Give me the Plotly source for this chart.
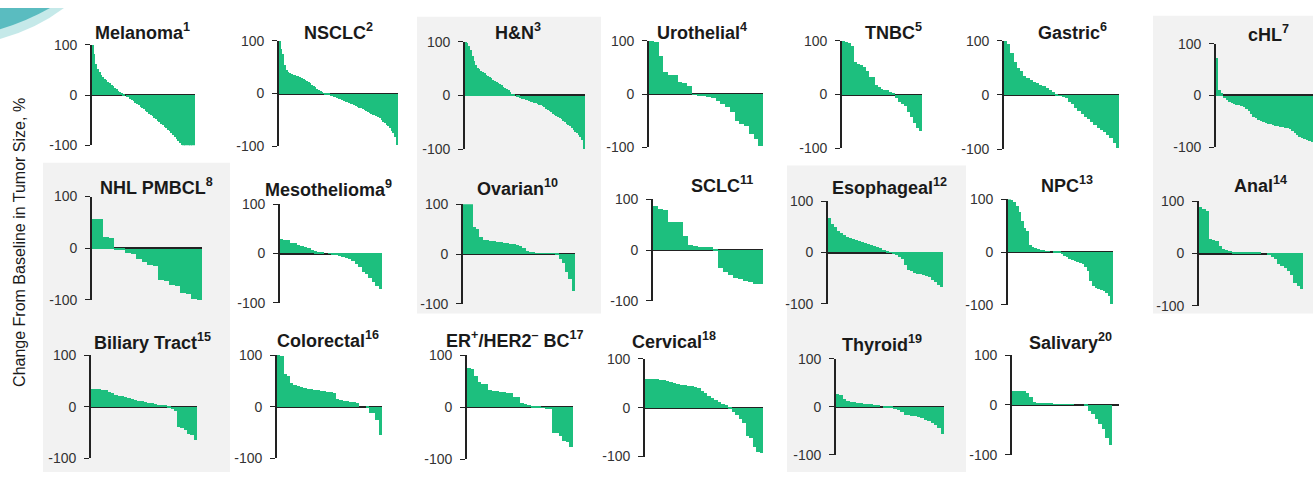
import plotly.graph_objects as go

# ---------------- data ----------------
titles = [
    "Melanoma<sup>1</sup>", "NSCLC<sup>2</sup>", "H&N<sup>3</sup>", "Urothelial<sup>4</sup>",
    "TNBC<sup>5</sup>", "Gastric<sup>6</sup>", "cHL<sup>7</sup>",
    "NHL PMBCL<sup>8</sup>", "Mesothelioma<sup>9</sup>", "Ovarian<sup>10</sup>", "SCLC<sup>11</sup>",
    "Esophageal<sup>12</sup>", "NPC<sup>13</sup>", "Anal<sup>14</sup>",
    "Biliary Tract<sup>15</sup>", "Colorectal<sup>16</sup>", "ER<sup>+</sup>/HER2<sup>\u2013</sup> BC<sup>17</sup>",
    "Cervical<sup>18</sup>", "Thyroid<sup>19</sup>", "Salivary<sup>20</sup>",
]

melanoma = [100, 82, 62, 52, 46, 41, 37, 33, 30, 27, 24, 21, 18, 15, 12, 9, 7, 4, 2, 0,
            -2, -4, -7, -10, -12, -15, -18, -20, -23, -26, -28, -31, -34, -37, -40, -42, -45, -48, -51, -54,
            -57, -60, -63, -66, -69, -72, -76, -79, -83, -87, -91, -95, -98, -100, -100, -100, -100, -100, -100, -100]
nsclc = [100, 85, 75, 55, 45, 41, 39, 37, 36, 35, 34, 33, 31, 30, 28, 26, 24, 22, 20, 17,
         14, 12, 9, 7, 5, 3, 1, -1, -2, -3, -4, -5, -6, -7, -8, -10, -11, -12, -14, -15,
         -16, -17, -19, -20, -22, -24, -25, -27, -28, -30, -31, -32, -34, -36, -38, -40, -41, -43, -45, -47,
         -50, -53, -56, -59, -62, -66, -70, -75, -82, -98]
hn = [100, 98, 92, 85, 74, 64, 57, 52, 49, 46, 44, 42, 39, 37, 35, 32, 30, 28, 26, 24,
      22, 20, 17, 15, 13, 10, 7, 4, 2, 0, -1, -3, -4, -6, -7, -8, -9, -10, -11, -12,
      -13, -14, -15, -17, -18, -20, -22, -24, -26, -28, -31, -34, -36, -38, -40, -42, -44, -47, -50, -52,
      -54, -57, -61, -64, -67, -70, -73, -77, -82, -100]
urothelial = [100, 99, 72, 42, 37, 36, 23, 21, 16, -1, -2, -3, -5, -8, -12, -18, -25, -33, -51, -56, -60, -74, -84, -97]
tnbc = [100, 99, 97, 90, 60, 57, 55, 52, 44, 33, 32, 18, 15, 11, 9, 8, 5, 4, -6, -13, -17, -21, -33, -42, -52, -62, -68]
gastric = [100, 95, 78, 62, 50, 45, 36, 32, 28, 25, 22, 19, 17, 14, 10, 6, 2, -1, -3, -6,
           -12, -17, -23, -29, -35, -40, -45, -50, -55, -60, -64, -68, -74, -80, -88, -98]
chl = [73, 12, 5, -5, -9, -12, -14, -16, -17, -18, -19, -21, -25, -29, -35, -41, -44, -47, -49, -51,
       -52, -54, -55, -57, -58, -59, -60, -61, -62, -63, -65, -68, -72, -76, -79, -82, -84, -86, -88, -90]
nhl_pmbcl = [58, 57, 22, 21, -1, -3, -8, -10, -19, -26, -31, -33, -60, -63, -70, -72, -86, -87, -98, -99]
mesothelioma = [29, 28, 27, 21, 20, 17, 14, 12, 10, 7, 4, 2, 1, 0, -1, -2, -3, -5, -7, -9,
                -12, -16, -22, -28, -37, -42, -50, -58, -66, -72]
ovarian = [100, 100, 100, 53, 50, 34, 28, 27, 26, 25, 24, 23, 22, 21, 20, 19, 18, 16, 12, 6,
           3, 2, 1, 1, 1, 1, 1, 1, -3, -10, -18, -37, -50, -75]
sclc = [86, 80, 79, 55, 55, 54, 27, 9, 8, 6, 6, 5, -1, -36, -44, -50, -56, -57, -61, -63, -68, -68]
esophageal = [67, 55, 49, 42, 37, 33, 30, 28, 26, 24, 22, 20, 18, 16, 14, 12, 10, 8, 5, 2,
              -1, -3, -5, -9, -13, -25, -35, -37, -40, -42, -43, -44, -46, -48, -55, -59, -63, -68]
npc = [100, 98, 94, 87, 75, 58, 45, 40, 12, 9, 7, 5, 3, 2, 1, 1, 0, -1, -2, -3,
       -5, -8, -11, -14, -16, -18, -20, -22, -23, -30, -37, -55, -65, -68, -70, -72, -74, -78, -85, -100]
anal = [88, 85, 80, 27, 25, 23, 14, 9, 7, 5, 3, 2, 2, 2, 1, 1, 1, 1, 1, 0,
        0, -2, -8, -12, -20, -24, -29, -35, -41, -58, -62, -69]
biliary = [35, 34, 34, 33, 32, 28, 26, 23, 21, 20, 19, 17, 14, 13, 12, 11, 10, 8, 7, 6,
           4, 3, 2, -3, -5, -9, -40, -42, -45, -52, -55, -64]
colorectal = [100, 98, 64, 60, 46, 42, 40, 38, 37, 35, 34, 33, 32, 31, 30, 29, 28, 26, 15, 13,
              12, 11, 10, 9, 8, 0, 0, -1, -12, -13, -25, -55]
er_her2_bc = [76, 74, 60, 48, 45, 44, 33, 32, 31, 30, 29, 28, 27, 20, 19, 8, 6, 4, 3, 2,
              1, -1, -2, -3, -49, -50, -55, -64, -66, -77]
cervical = [60, 60, 60, 59, 58, 57, 55, 52, 50, 49, 47, 46, 45, 44, 42, 40, 35, 30, 25, 20,
            15, 12, 8, 5, -3, -8, -15, -23, -32, -58, -62, -80, -91, -92]
thyroid = [26, 24, 17, 12, 11, 10, 9, 8, 7, 6, 5, 3, 2, 0, -1, -2, -3, -5, -6, -10,
           -17, -18, -19, -20, -21, -24, -27, -30, -33, -38, -44, -57]
salivary = [28, 28, 27, 27, 24, 16, 5, 3, 2, 2, 2, 2, 1, 1, 1, 1, 1, 1, 0, 0,
            0, -1, -12, -18, -28, -38, -48, -67, -80]

series = [melanoma, nsclc, hn, urothelial, tnbc, gastric, chl,
          nhl_pmbcl, mesothelioma, ovarian, sclc, esophageal, npc, anal,
          biliary, colorectal, er_her2_bc, cervical, thyroid, salivary]

y_ticks = [-100, 0, 100]
y_tick_labels = ["-100", "0", "100"]
y_axis_title = "Change From Baseline in Tumor Size, %"

# ---------------- layout geometry (pixels on a 1313x480 canvas) ----------------
W, H = 1313, 480
# [axis x, right end x, y of +100, y of -100]
panel_px = [
    [92, 195, 38, 142], [279, 398, 34, 143], [465, 585, 35, 146], [649, 763, 34, 144],
    [842, 922, 34, 145], [1004, 1119, 34, 146], [1216, 1313, 37, 144],
    [92, 202, 195, 302], [280, 382, 203, 305], [463, 575, 203, 306], [653, 763, 198, 303],
    [828, 943, 200, 306], [1008, 1113, 198, 307], [1199, 1303, 200, 308],
    [91, 197, 359, 466], [277, 382, 359, 466], [467, 573, 359, 467], [645, 763, 363, 464],
    [836, 944, 363, 462], [1012, 1119, 359, 462],
]
# extra empty slots to the right of the last bar (zero line continues)
x_extra = [0] * 19 + [2]
# title centres
title_px = [
    [142, 24], [338, 24], [518, 24], [702, 24], [893, 24], [1072, 24], [1268, 26],
    [156, 185], [328, 187], [517, 186], [722, 183], [890, 185], [1067, 183], [1260, 183],
    [152, 345], [328, 343], [514, 343], [674, 344], [882, 347], [1070, 345],
]
# light grey panel backgrounds [x0, x1, y0, y1]
bg_px = [[43, 230, 160, 480], [417, 601, 9, 316], [787, 966, 163, 480], [1153, 1313, 8, 316]]

GREEN = "#1dbf7e"
AX = "#222222"

fig = go.Figure()
layout = dict(
    width=W, height=H, margin=dict(l=0, r=0, t=0, b=0),
    paper_bgcolor="white", plot_bgcolor="rgba(0,0,0,0)",
    showlegend=False, bargap=0,
    font=dict(family="Liberation Sans, Arial, sans-serif", color="#222"),
    annotations=[], shapes=[],
)

for i, vals in enumerate(series):
    k = "" if i == 0 else str(i + 1)
    fig.add_trace(go.Bar(
        x=list(range(len(vals))), y=vals, xaxis="x" + k, yaxis="y" + k,
        marker=dict(color=GREEN, line=dict(width=0)), hoverinfo="y",
    ))
    x0, x1, yt, yb = panel_px[i]
    layout["xaxis" + k] = dict(
        domain=[x0 / W, x1 / W], range=[-0.5, len(vals) - 0.5 + x_extra[i]],
        visible=False, anchor="y" + k, fixedrange=True,
    )
    layout["yaxis" + k] = dict(
        domain=[1 - yb / H, 1 - yt / H], range=[-100, 100], anchor="x" + k,
        tickvals=y_ticks, ticktext=y_tick_labels,
        showline=True, linecolor=AX, linewidth=1.6,
        ticks="outside", ticklen=5, tickwidth=1.4, tickcolor=AX,
        zeroline=True, zerolinecolor=AX, zerolinewidth=1.6,
        showgrid=False, layer="above traces", ticklabelstandoff=5,
        tickfont=dict(size=14, color="#333", family="Liberation Sans, Arial, sans-serif"),
        fixedrange=True,
    )
    tx, ty = title_px[i]
    layout["annotations"].append(dict(
        text="<b>" + titles[i] + "</b>", xref="paper", yref="paper",
        x=tx / W, y=1 - ty / H, xanchor="center", yanchor="middle", showarrow=False,
        font=dict(size=18, color="#1a1a1a", family="Liberation Sans, Arial, sans-serif"),
    ))

# y-axis title
layout["annotations"].append(dict(
    text=y_axis_title, xref="paper", yref="paper", x=20 / W, y=1 - 243 / H,
    xanchor="center", yanchor="middle", textangle=-90, showarrow=False,
    font=dict(size=16, color="#1a1a1a", family="Liberation Sans Narrow, Arial Narrow, Liberation Sans, Arial"),
))

# grey backgrounds
for bx0, bx1, by0, by1 in bg_px:
    layout["shapes"].append(dict(
        type="rect", xref="paper", yref="paper", layer="below",
        x0=bx0 / W, x1=bx1 / W, y0=1 - by1 / H, y1=1 - by0 / H,
        fillcolor="#f2f2f2", line=dict(width=0),
    ))

# decorative teal swoosh (top-left corner)
def px_path(pts):
    s = ""
    for cmd, x, y in pts:
        s += f"{cmd} {x / W:.5f},{1 - y / H:.5f} "
    return s + "Z"

layout["shapes"].append(dict(
    type="path", xref="paper", yref="paper", layer="below", line=dict(width=0),
    fillcolor="rgba(150,215,215,0.55)",
    path=px_path([("M", 0, 0), ("L", 64, 0), ("Q", 36, 22), ("", 0, 32)]),
))
layout["shapes"].append(dict(
    type="path", xref="paper", yref="paper", layer="below", line=dict(width=0),
    fillcolor="rgba(70,180,185,0.85)",
    path=px_path([("M", 0, 0), ("L", 50, 0), ("Q", 26, 14), ("", 0, 22)]),
))

fig.update_layout(**layout)
fig.write_html("out.html", config={"displayModeBar": False})

# remove the default page margin so the figure sits at the window origin
with open("out.html", "r", encoding="utf-8") as f:
    html = f.read()
style = "<style>html,body{margin:0;padding:0;overflow:hidden;background:white}</style>"
if "<head>" in html:
    html = html.replace("<head>", "<head>" + style, 1)
else:
    html = style + html
with open("out.html", "w", encoding="utf-8") as f:
    f.write(html)
